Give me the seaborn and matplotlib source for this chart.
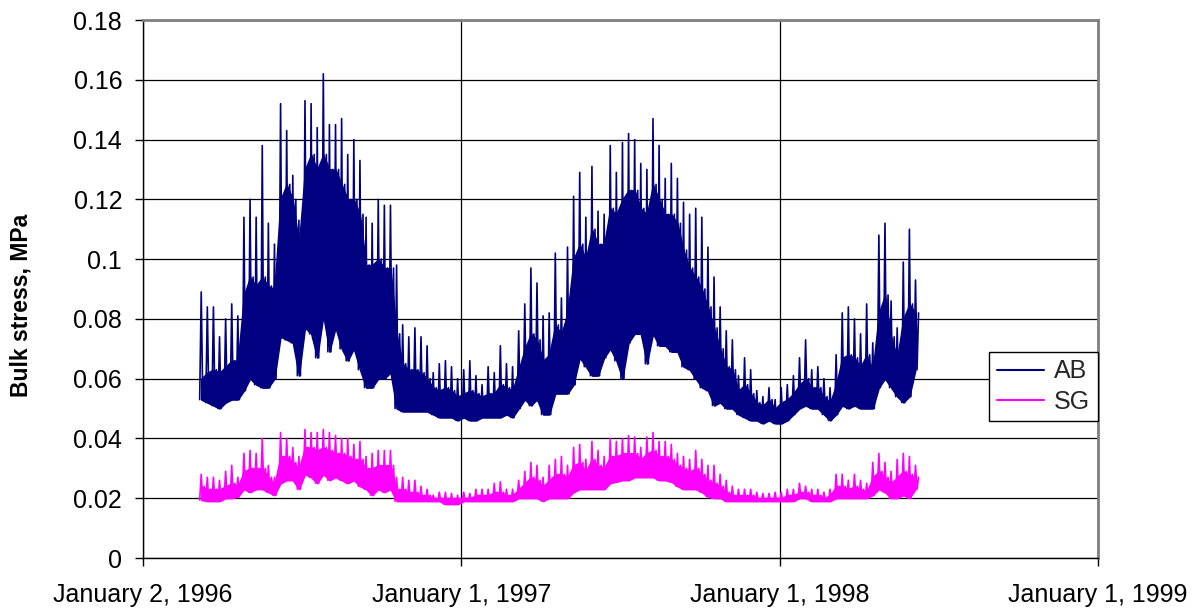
import numpy as np
import pandas as pd
import matplotlib
matplotlib.use("Agg")
import matplotlib.pyplot as plt
from matplotlib.lines import Line2D
import seaborn as sns

# ---------------- data (weekly envelope) ----------------
start_date = "1996-03-07"   # first reading, one reading per week

# lowest value of each week
ab_low = [
    0.053, 0.052, 0.051, 0.050, 0.052, 0.053, 0.053, 0.056, 0.060, 0.058,   # 0-9
    0.057, 0.057, 0.060, 0.074, 0.073, 0.072, 0.061, 0.077, 0.075, 0.067,   # 10-19
    0.081, 0.069, 0.077, 0.070, 0.066, 0.070, 0.063, 0.057, 0.057, 0.060,   # 20-29
    0.060, 0.062, 0.050, 0.049, 0.049, 0.049, 0.049, 0.049, 0.048, 0.047,   # 30-39
    0.047, 0.047, 0.046, 0.047, 0.046, 0.046, 0.047, 0.047, 0.047, 0.047,   # 40-49
    0.048, 0.047, 0.050, 0.053, 0.051, 0.053, 0.048, 0.048, 0.055, 0.055,   # 50-59
    0.055, 0.058, 0.067, 0.064, 0.061, 0.061, 0.067, 0.070, 0.066, 0.060,   # 60-69
    0.072, 0.075, 0.075, 0.065, 0.075, 0.071, 0.071, 0.069, 0.069, 0.064,   # 70-79
    0.063, 0.060, 0.057, 0.056, 0.051, 0.052, 0.050, 0.050, 0.048, 0.047,   # 80-89
    0.046, 0.046, 0.045, 0.046, 0.045, 0.045, 0.046, 0.048, 0.050, 0.051,   # 90-99
    0.050, 0.050, 0.048, 0.046, 0.048, 0.051, 0.050, 0.051, 0.050, 0.050,   # 100-109
    0.050, 0.057, 0.060, 0.057, 0.054, 0.052, 0.054, 0.063,                 # 110-117
]
# upper edge of the dense (solid) part of each week
ab_mid = [
    0.060, 0.062, 0.063, 0.062, 0.064, 0.066, 0.066, 0.088, 0.094, 0.091,
    0.094, 0.091, 0.090, 0.120, 0.125, 0.120, 0.105, 0.130, 0.135, 0.130,
    0.135, 0.130, 0.130, 0.125, 0.120, 0.120, 0.115, 0.098, 0.098, 0.100,
    0.097, 0.097, 0.075, 0.065, 0.063, 0.063, 0.062, 0.060, 0.057, 0.056,
    0.057, 0.056, 0.054, 0.055, 0.056, 0.055, 0.054, 0.055, 0.055, 0.058,
    0.057, 0.056, 0.063, 0.070, 0.075, 0.073, 0.066, 0.068, 0.078, 0.075,
    0.082, 0.100, 0.105, 0.100, 0.110, 0.105, 0.105, 0.117, 0.115, 0.120,
    0.123, 0.123, 0.117, 0.115, 0.125, 0.120, 0.115, 0.115, 0.112, 0.103,
    0.097, 0.094, 0.090, 0.084, 0.077, 0.070, 0.064, 0.063, 0.056, 0.058,
    0.055, 0.052, 0.051, 0.053, 0.050, 0.052, 0.053, 0.055, 0.058, 0.060,
    0.057, 0.057, 0.054, 0.052, 0.058, 0.067, 0.068, 0.067, 0.064, 0.068,
    0.063, 0.082, 0.088, 0.074, 0.067, 0.080, 0.085, 0.082,
]
# highest spike of each week
ab_high = [
    0.089, 0.084, 0.084, 0.074, 0.080, 0.085, 0.081, 0.114, 0.120, 0.114,
    0.138, 0.112, 0.105, 0.152, 0.143, 0.128, 0.113, 0.153, 0.152, 0.144,
    0.162, 0.145, 0.145, 0.147, 0.135, 0.140, 0.133, 0.114, 0.112, 0.120,
    0.118, 0.118, 0.098, 0.078, 0.074, 0.077, 0.074, 0.071, 0.062, 0.065,
    0.066, 0.064, 0.060, 0.063, 0.066, 0.061, 0.058, 0.064, 0.062, 0.071,
    0.065, 0.064, 0.076, 0.085, 0.097, 0.092, 0.081, 0.082, 0.102, 0.087,
    0.104, 0.121, 0.129, 0.114, 0.131, 0.116, 0.115, 0.138, 0.129, 0.139,
    0.142, 0.140, 0.132, 0.130, 0.147, 0.138, 0.127, 0.132, 0.127, 0.119,
    0.115, 0.117, 0.114, 0.104, 0.094, 0.084, 0.076, 0.073, 0.061, 0.067,
    0.063, 0.056, 0.054, 0.057, 0.053, 0.057, 0.058, 0.061, 0.067, 0.073,
    0.063, 0.064, 0.060, 0.057, 0.068, 0.082, 0.084, 0.080, 0.075, 0.085,
    0.072, 0.108, 0.112, 0.086, 0.077, 0.099, 0.110, 0.093,
]
sg_low = [
    0.0194, 0.019, 0.019, 0.019, 0.020, 0.020, 0.0205, 0.023, 0.022, 0.023,
    0.023, 0.022, 0.021, 0.025, 0.026, 0.026, 0.023, 0.028, 0.027, 0.025,
    0.028, 0.026, 0.027, 0.026, 0.025, 0.026, 0.024, 0.023, 0.021, 0.023,
    0.022, 0.023, 0.019, 0.019, 0.019, 0.019, 0.019, 0.019, 0.019, 0.019,
    0.018, 0.018, 0.018, 0.019, 0.019, 0.019, 0.019, 0.019, 0.019, 0.019,
    0.019, 0.019, 0.020, 0.020, 0.020, 0.020, 0.019, 0.020, 0.020, 0.020,
    0.020, 0.022, 0.023, 0.023, 0.023, 0.023, 0.023, 0.025, 0.0255, 0.026,
    0.026, 0.027, 0.027, 0.027, 0.027, 0.026, 0.026, 0.0255, 0.024, 0.023,
    0.023, 0.023, 0.022, 0.0205, 0.020, 0.020, 0.019, 0.019, 0.019, 0.019,
    0.019, 0.019, 0.019, 0.019, 0.019, 0.019, 0.019, 0.019, 0.020, 0.020,
    0.019, 0.019, 0.019, 0.019, 0.020, 0.020, 0.020, 0.020, 0.020, 0.020,
    0.021, 0.023, 0.022, 0.020, 0.020, 0.021, 0.020, 0.023,
]
sg_mid = [
    0.024, 0.023, 0.023, 0.023, 0.024, 0.025, 0.024, 0.029, 0.030, 0.030,
    0.030, 0.027, 0.025, 0.034, 0.034, 0.032, 0.030, 0.037, 0.037, 0.036,
    0.037, 0.036, 0.035, 0.035, 0.034, 0.033, 0.033, 0.030, 0.030, 0.031,
    0.031, 0.031, 0.023, 0.023, 0.022, 0.022, 0.021, 0.021, 0.020, 0.020,
    0.020, 0.020, 0.020, 0.020, 0.020, 0.021, 0.021, 0.021, 0.022, 0.022,
    0.021, 0.021, 0.023, 0.025, 0.027, 0.026, 0.024, 0.026, 0.028, 0.028,
    0.027, 0.031, 0.032, 0.029, 0.033, 0.031, 0.030, 0.034, 0.034, 0.035,
    0.035, 0.035, 0.033, 0.035, 0.036, 0.034, 0.034, 0.033, 0.031, 0.030,
    0.029, 0.030, 0.028, 0.026, 0.025, 0.024, 0.022, 0.021, 0.021, 0.021,
    0.021, 0.020, 0.020, 0.020, 0.020, 0.020, 0.021, 0.021, 0.022, 0.022,
    0.021, 0.021, 0.020, 0.021, 0.024, 0.024, 0.023, 0.024, 0.023, 0.022,
    0.027, 0.029, 0.027, 0.025, 0.027, 0.029, 0.028, 0.027,
]
sg_high = [
    0.028, 0.027, 0.027, 0.026, 0.029, 0.031, 0.027, 0.035, 0.036, 0.035,
    0.040, 0.031, 0.027, 0.042, 0.040, 0.037, 0.034, 0.043, 0.042, 0.042,
    0.043, 0.042, 0.041, 0.040, 0.040, 0.038, 0.039, 0.034, 0.035, 0.036,
    0.036, 0.036, 0.027, 0.027, 0.026, 0.026, 0.024, 0.023, 0.021, 0.022,
    0.022, 0.0216, 0.021, 0.022, 0.0216, 0.023, 0.023, 0.023, 0.025, 0.0255,
    0.023, 0.023, 0.026, 0.029, 0.032, 0.031, 0.027, 0.031, 0.033, 0.034,
    0.031, 0.037, 0.038, 0.033, 0.039, 0.036, 0.034, 0.040, 0.039, 0.040,
    0.041, 0.0405, 0.037, 0.0405, 0.042, 0.039, 0.039, 0.038, 0.035, 0.034,
    0.033, 0.036, 0.033, 0.031, 0.031, 0.028, 0.026, 0.024, 0.023, 0.023,
    0.023, 0.022, 0.0216, 0.0216, 0.022, 0.022, 0.023, 0.023, 0.025, 0.024,
    0.023, 0.023, 0.022, 0.023, 0.028, 0.028, 0.026, 0.028, 0.026, 0.025,
    0.032, 0.035, 0.032, 0.029, 0.033, 0.035, 0.034, 0.031,
]

series_names = ["AB", "SG"]
series_colors = ["#000080", "#FF00FF"]

x_tick_dates = ["1996-01-02", "1997-01-01", "1998-01-01", "1999-01-01"]
x_tick_labels = ["January 2, 1996", "January 1, 1997", "January 1, 1998", "January 1, 1999"]
y_ticks = [0, 0.02, 0.04, 0.06, 0.08, 0.10, 0.12, 0.14, 0.16, 0.18]
y_tick_labels = ["0", "0.02", "0.04", "0.06", "0.08", "0.1", "0.12", "0.14", "0.16", "0.18"]
y_label = "Bulk stress, MPa"

# ---------------- build long tables ----------------
weeks = pd.date_range(start_date, periods=len(ab_low), freq="7D")
q = pd.Timedelta(hours=42)   # quarter week


def trace(low, mid, high, name):
    """Each week: its low, its highest spike, its low again, its dense-band top."""
    n = min(len(low), len(mid), len(high), len(weeks))
    t, v = [], []
    for i in range(n):
        t += [weeks[i], weeks[i] + q, weeks[i] + 2 * q, weeks[i] + 3 * q]
        v += [low[i], high[i], low[i], mid[i]]
    return pd.DataFrame({"date": t, "value": v, "series": name})


df = pd.concat([trace(ab_low, ab_mid, ab_high, "AB"),
                trace(sg_low, sg_mid, sg_high, "SG")], ignore_index=True)

# ---------------- plot ----------------
sns.set_theme(style="white")
plt.rcParams["font.family"] = ["Liberation Sans", "DejaVu Sans"]

fig = plt.figure(figsize=(12.04, 6.14), dpi=100)
ax = fig.add_axes([143 / 1204, 1 - 558 / 614, (1098 - 143) / 1204, (558 - 20) / 614])

ax.grid(True, axis="both", color="black", linewidth=0.9, zorder=0)
ax.set_axisbelow(True)

# dense band of each series
band_t = weeks + q
for low, mid, col in [(ab_low, ab_mid, series_colors[0]), (sg_low, sg_mid, series_colors[1])]:
    ax.fill_between(band_t, low, mid, color=col, linewidth=1.0, edgecolor=col, zorder=2)

sns.lineplot(data=df, x="date", y="value", hue="series",
             palette=dict(zip(series_names, series_colors)),
             estimator=None, linewidth=1.2, legend=False, ax=ax, zorder=3)

xt = pd.to_datetime(x_tick_dates)
ax.set_xlim(xt[0], xt[-1])
ax.set_ylim(0, 0.18)
ax.set_xticks(xt)
ax.set_xticklabels(x_tick_labels)
ax.set_yticks(y_ticks)
ax.set_yticklabels(y_tick_labels)
ax.set_xlabel("")

for s in ["left", "bottom"]:
    ax.spines[s].set_color("black")
    ax.spines[s].set_linewidth(1.0)
for s in ["top", "right"]:
    ax.spines[s].set_color("#808080")
    ax.spines[s].set_linewidth(2.0)

ax.tick_params(axis="both", direction="out", length=6, width=1, color="black",
               labelsize=18, labelcolor="black")
ax.tick_params(axis="x", pad=12, bottom=True)
ax.tick_params(axis="y", pad=9, left=True)

ax.set_ylabel(y_label, fontsize=16.5, fontweight="bold", color="black")
ax.yaxis.set_label_coords((33 - 143) / 955, (558 - 305) / 538)

handles = [Line2D([0], [0], color=c, linewidth=1.5) for c in series_colors]
leg = ax.legend(handles, series_names, loc="upper left",
                bbox_to_anchor=((989 - 143) / 955, (558 - 352) / 538),
                borderaxespad=0, frameon=True, fancybox=False, framealpha=1,
                edgecolor="black", fontsize=18, handlelength=1.9, handletextpad=0.4,
                borderpad=0.3, labelspacing=0.25)
leg.get_frame().set_linewidth(1.0)
leg.set_zorder(5)

fig.savefig("out.png", dpi=100, facecolor="white")
